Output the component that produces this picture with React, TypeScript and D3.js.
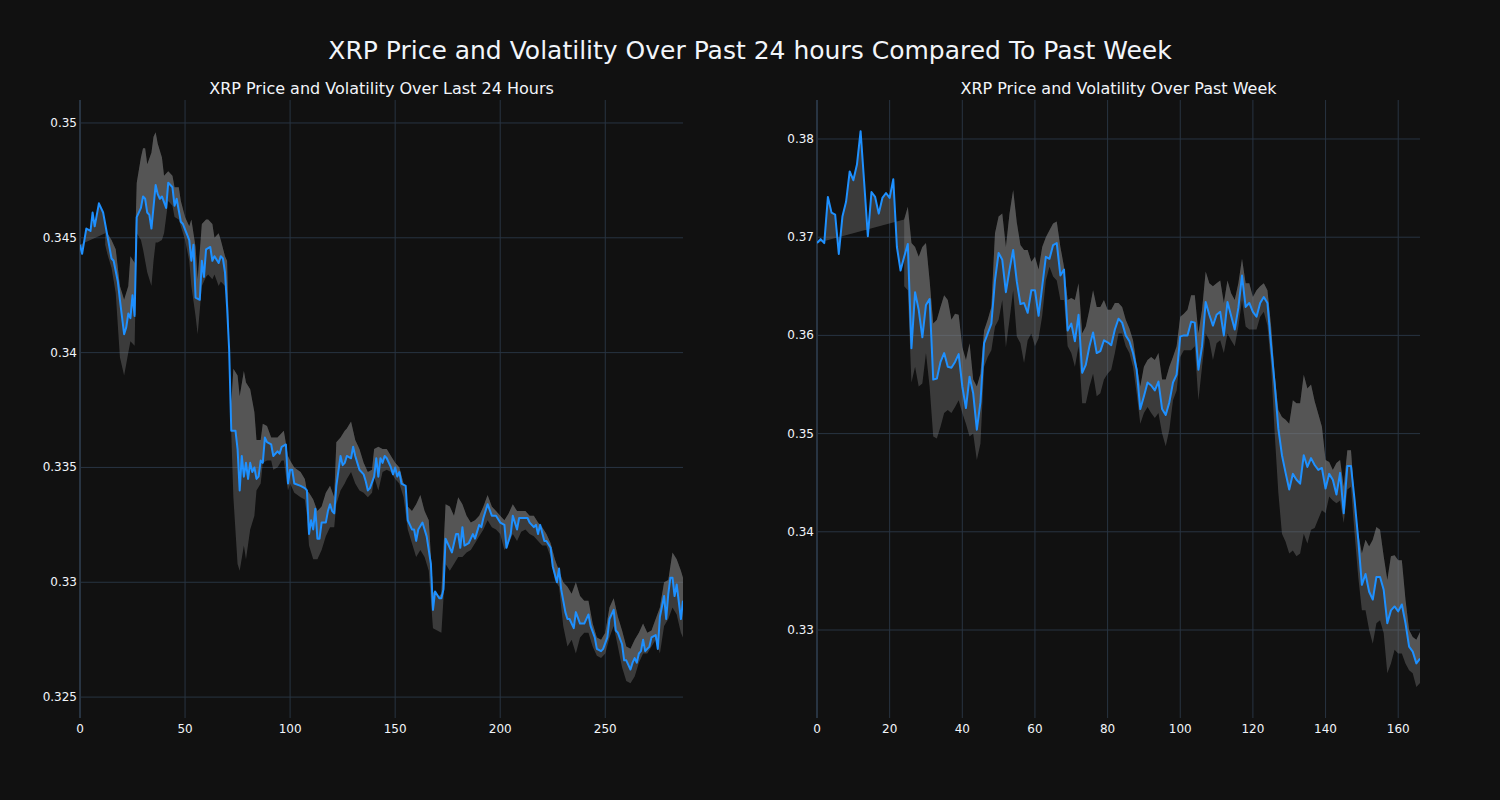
import React from "react";
import * as d3 from "d3";

// ---------- Last 24 hours (5-minute steps) ----------
const dayX = [0,1,3,5,6,7,9,11,13,15,16,18,19,21,22,23,24,25,26,27,29,30,31,32,33,34,36,37,38,39,41,42,44,45,46,48,49,52,53,54,55,57,58,59,60,62,63,64,66,67,68,69,70,71,72,74,75,76,77,78,79,80,81,82,83,84,85,86,87,88,89,91,92,94,95,96,98,99,100,101,102,105,107,108,109,110,111,112,113,114,115,117,118,119,120,121,122,124,125,126,127,129,130,131,132,133,135,136,137,138,140,141,142,143,144,145,146,148,149,150,151,152,153,155,156,158,159,160,161,163,164,165,167,168,169,171,172,173,174,176,177,179,180,181,182,183,185,187,188,190,191,192,194,196,198,200,202,203,205,206,208,209,211,213,214,216,217,218,219,221,222,224,225,227,228,229,231,232,233,235,236,238,239,240,242,243,245,246,248,249,251,252,254,255,256,258,259,260,262,263,264,265,266,267,268,269,271,272,274,275,276,278,279,280,281,282,283,284,286,287];
const dayPrice = [0.3447,0.3443,0.3454,0.3453,0.3461,0.3455,0.3465,0.3461,0.3451,0.3441,0.3440,0.3431,0.3423,0.3408,0.3411,0.3417,0.3415,0.3425,0.3416,0.3459,0.3463,0.3468,0.3467,0.3461,0.3460,0.3454,0.3473,0.3469,0.3467,0.3468,0.3463,0.3474,0.3472,0.3464,0.3467,0.3457,0.3456,0.3449,0.3440,0.3447,0.3424,0.3423,0.3440,0.3433,0.3445,0.3446,0.3440,0.3442,0.3439,0.3442,0.3441,0.3435,0.3420,0.3401,0.3366,0.3366,0.3358,0.3340,0.3355,0.3346,0.3352,0.3345,0.3352,0.3348,0.3350,0.3345,0.3346,0.3353,0.3352,0.3363,0.3361,0.3360,0.3355,0.3357,0.3356,0.3359,0.3360,0.3343,0.3349,0.3349,0.3343,0.3342,0.3341,0.3340,0.3321,0.3327,0.3323,0.3332,0.3319,0.3319,0.3326,0.3326,0.3331,0.3334,0.3331,0.3330,0.3342,0.3355,0.3351,0.3352,0.3355,0.3354,0.3359,0.3355,0.3352,0.3349,0.3347,0.3344,0.3340,0.3341,0.3346,0.3354,0.3346,0.3354,0.3352,0.3355,0.3354,0.3350,0.3347,0.3350,0.3346,0.3348,0.3343,0.3342,0.3327,0.3323,0.3323,0.3318,0.3323,0.3326,0.3323,0.3320,0.3308,0.3288,0.3296,0.3293,0.3293,0.3297,0.3319,0.3315,0.3313,0.3321,0.3321,0.3315,0.3324,0.3316,0.3317,0.3321,0.3319,0.3325,0.3324,0.3328,0.3334,0.3329,0.3329,0.3326,0.3325,0.3315,0.3321,0.3329,0.3323,0.3328,0.3328,0.3328,0.3326,0.3324,0.3325,0.3321,0.3325,0.3318,0.3318,0.3315,0.3307,0.3300,0.3306,0.3297,0.3287,0.3284,0.3284,0.3280,0.3287,0.3282,0.3282,0.3282,0.3286,0.3281,0.3276,0.3271,0.3270,0.3271,0.3276,0.3284,0.3288,0.3279,0.3278,0.3273,0.3266,0.3266,0.3262,0.3265,0.3267,0.3265,0.3269,0.3270,0.3275,0.3270,0.3272,0.3276,0.3277,0.3271,0.3285,0.3294,0.3284,0.3295,0.3302,0.3302,0.3294,0.3299,0.3284,0.3292];

const dayBandX = [12,13,15,17,19,21,23,24,26,27,29,30,31,32,34,35,36,37,39,40,42,44,45,47,48,50,52,53,55,56,58,60,61,63,64,66,67,69,70,71,72,73,75,76,78,79,81,83,84,86,87,89,91,92,94,96,97,99,100,102,105,107,108,109,111,113,115,117,119,121,122,124,126,127,129,131,133,135,137,139,140,142,144,146,148,150,152,154,156,158,160,162,164,166,168,170,172,174,176,178,180,182,184,186,188,190,192,194,196,198,200,202,204,206,208,210,212,214,216,218,220,222,224,226,228,230,232,234,236,238,240,242,244,246,248,250,252,254,256,258,260,262,264,266,268,270,272,274,276,278,280,282,284,286,287];
const dayUpper = [0.3452,0.3452,0.3449,0.3445,0.3429,0.3423,0.3429,0.3442,0.3439,0.3474,0.3485,0.3489,0.3489,0.3482,0.3487,0.3494,0.3496,0.3491,0.3485,0.3477,0.3479,0.3477,0.3472,0.3472,0.3466,0.3459,0.3455,0.3458,0.3446,0.3432,0.3456,0.3458,0.3458,0.3456,0.3450,0.3452,0.3449,0.3442,0.3440,0.3402,0.3378,0.3393,0.3390,0.3381,0.3392,0.3387,0.3384,0.3374,0.3362,0.3362,0.3369,0.3368,0.3363,0.3363,0.3363,0.3365,0.3366,0.3355,0.3353,0.3350,0.3348,0.3345,0.3340,0.3339,0.3336,0.3331,0.3333,0.3339,0.3342,0.3337,0.3361,0.3363,0.3366,0.3367,0.3370,0.3362,0.3358,0.3352,0.3348,0.3349,0.3358,0.3359,0.3358,0.3358,0.3355,0.3352,0.3350,0.3343,0.3333,0.3331,0.3334,0.3338,0.3331,0.3327,0.3296,0.3293,0.3295,0.3334,0.3333,0.3329,0.3337,0.3334,0.3329,0.3326,0.3327,0.3329,0.3333,0.3338,0.3333,0.3331,0.3329,0.3327,0.3330,0.3334,0.3331,0.3331,0.3331,0.3329,0.3329,0.3326,0.3324,0.3321,0.3317,0.3310,0.3305,0.3300,0.3298,0.3295,0.3300,0.3294,0.3292,0.3292,0.3282,0.3276,0.3275,0.3278,0.3289,0.3293,0.3285,0.3279,0.3272,0.3271,0.3275,0.3278,0.3282,0.3278,0.3279,0.3284,0.3289,0.3300,0.3301,0.3313,0.3310,0.3305,0.3302];
const dayLower = [0.3447,0.3443,0.3437,0.3426,0.3398,0.3390,0.3400,0.3405,0.3403,0.3452,0.3449,0.3445,0.3440,0.3435,0.3429,0.3440,0.3448,0.3448,0.3449,0.3452,0.3466,0.3464,0.3459,0.3458,0.3455,0.3449,0.3440,0.3429,0.3416,0.3408,0.3429,0.3433,0.3434,0.3432,0.3434,0.3429,0.3431,0.3429,0.3425,0.3398,0.3365,0.3337,0.3308,0.3305,0.3316,0.3310,0.3323,0.3329,0.3340,0.3343,0.3352,0.3353,0.3353,0.3349,0.3350,0.3353,0.3353,0.3340,0.3343,0.3339,0.3337,0.3336,0.3329,0.3316,0.3310,0.3310,0.3314,0.3320,0.3324,0.3324,0.3334,0.3340,0.3343,0.3345,0.3348,0.3343,0.3340,0.3339,0.3337,0.3339,0.3346,0.3340,0.3348,0.3349,0.3348,0.3345,0.3343,0.3337,0.3323,0.3317,0.3311,0.3314,0.3311,0.3305,0.3280,0.3279,0.3278,0.3308,0.3305,0.3308,0.3311,0.3311,0.3313,0.3314,0.3317,0.3320,0.3323,0.3327,0.3324,0.3323,0.3321,0.3314,0.3317,0.3321,0.3318,0.3322,0.3323,0.3321,0.3320,0.3318,0.3316,0.3316,0.3311,0.3301,0.3298,0.3281,0.3272,0.3275,0.3269,0.3276,0.3278,0.3278,0.3272,0.3268,0.3267,0.3269,0.3276,0.3281,0.3272,0.3263,0.3257,0.3256,0.3259,0.3265,0.3269,0.3269,0.3272,0.3275,0.3269,0.3281,0.3284,0.3289,0.3286,0.3278,0.3276];

// ---------- Past week (hourly steps) ----------
const weekPrice = [0.3694,0.3698,0.3694,0.3741,0.3725,0.3723,0.3683,0.3721,0.3736,0.3767,0.3758,0.3774,0.3808,0.3755,0.3701,0.3746,0.3741,0.3724,0.3740,0.3745,0.3740,0.3759,0.3690,0.3666,0.3680,0.3693,0.3587,0.3644,0.3626,0.3598,0.3631,0.3637,0.3555,0.3556,0.3573,0.3582,0.3568,0.3567,0.3573,0.3581,0.3548,0.3526,0.3558,0.3541,0.3504,0.3532,0.3592,0.3602,0.3612,0.3656,0.3684,0.3677,0.3644,0.3667,0.3687,0.3655,0.3632,0.3633,0.3623,0.3646,0.3646,0.3620,0.3650,0.3680,0.3678,0.3692,0.3694,0.3661,0.3667,0.3605,0.3612,0.3594,0.3621,0.3562,0.3570,0.3589,0.3603,0.3582,0.3584,0.3595,0.3593,0.3590,0.3606,0.3617,0.3613,0.3600,0.3594,0.3582,0.3565,0.3525,0.3538,0.3552,0.3549,0.3544,0.3553,0.3525,0.3519,0.3532,0.3552,0.3560,0.3599,0.3600,0.3600,0.3614,0.3613,0.3565,0.3589,0.3634,0.3621,0.3610,0.3621,0.3624,0.3600,0.3634,0.3620,0.3606,0.3628,0.3661,0.3629,0.3633,0.3624,0.3619,0.3633,0.3639,0.3633,0.3590,0.3550,0.3505,0.3478,0.3460,0.3443,0.3459,0.3453,0.3449,0.3478,0.3466,0.3475,0.3468,0.3463,0.3465,0.3444,0.3459,0.3453,0.3438,0.3460,0.3419,0.3467,0.3467,0.3432,0.3392,0.3346,0.3357,0.3339,0.3331,0.3354,0.3354,0.3341,0.3307,0.3320,0.3324,0.3319,0.3326,0.3307,0.3283,0.3278,0.3266,0.3271];
const weekBandStart = 24;
const weekUpper = [0.3718,0.3731,0.3694,0.3690,0.3680,0.3690,0.3694,0.3656,0.3612,0.3616,0.3629,0.3641,0.3636,0.3616,0.3622,0.3621,0.3588,0.3575,0.3592,0.3555,0.3548,0.3561,0.3605,0.3616,0.3629,0.3704,0.3721,0.3724,0.3690,0.3724,0.3748,0.3715,0.3692,0.3687,0.3687,0.3675,0.3680,0.3667,0.3690,0.3700,0.3707,0.3714,0.3716,0.3690,0.3670,0.3636,0.3638,0.3636,0.3653,0.3602,0.3609,0.3626,0.3646,0.3629,0.3629,0.3636,0.3626,0.3626,0.3633,0.3633,0.3629,0.3616,0.3607,0.3595,0.3570,0.3548,0.3568,0.3575,0.3578,0.3575,0.3582,0.3555,0.3555,0.3568,0.3578,0.3589,0.3619,0.3622,0.3626,0.3641,0.3641,0.3602,0.3626,0.3665,0.3653,0.3650,0.3653,0.3656,0.3633,0.3656,0.3643,0.3636,0.3653,0.3678,0.3653,0.3653,0.3639,0.3646,0.3650,0.3653,0.3646,0.3610,0.3560,0.3524,0.3517,0.3514,0.3510,0.3534,0.3531,0.3531,0.3560,0.3546,0.3550,0.3533,0.3520,0.3507,0.3473,0.3471,0.3463,0.3470,0.3473,0.3446,0.3483,0.3483,0.3432,0.3398,0.3378,0.3392,0.3385,0.3392,0.3405,0.3402,0.3375,0.3351,0.3375,0.3376,0.3371,0.3371,0.3331,0.3300,0.3293,0.3290,0.3298];
const weekLower = [0.3650,0.3646,0.3552,0.3568,0.3548,0.3551,0.3582,0.3548,0.3497,0.3495,0.3507,0.3521,0.3524,0.3521,0.3527,0.3534,0.3521,0.3510,0.3497,0.3500,0.3473,0.3490,0.3568,0.3578,0.3585,0.3609,0.3616,0.3636,0.3588,0.3616,0.3646,0.3599,0.3592,0.3572,0.3595,0.3602,0.3589,0.3597,0.3620,0.3656,0.3670,0.3660,0.3656,0.3636,0.3636,0.3589,0.3582,0.3568,0.3589,0.3531,0.3531,0.3548,0.3561,0.3538,0.3541,0.3555,0.3561,0.3565,0.3582,0.3602,0.3602,0.3589,0.3582,0.3568,0.3541,0.3510,0.3521,0.3527,0.3521,0.3516,0.3521,0.3500,0.3487,0.3504,0.3534,0.3544,0.3578,0.3585,0.3585,0.3585,0.3589,0.3534,0.3568,0.3602,0.3595,0.3575,0.3592,0.3595,0.3582,0.3602,0.3595,0.3589,0.3609,0.3636,0.3609,0.3606,0.3606,0.3606,0.3619,0.3624,0.3610,0.3570,0.3500,0.3440,0.3398,0.3390,0.3378,0.3381,0.3375,0.3378,0.3398,0.3388,0.3402,0.3404,0.3413,0.3422,0.3419,0.3436,0.3432,0.3429,0.3432,0.3409,0.3443,0.3446,0.3398,0.3354,0.3320,0.3320,0.3300,0.3286,0.3307,0.3310,0.3297,0.3256,0.3266,0.3280,0.3276,0.3276,0.3266,0.3259,0.3256,0.3242,0.3246];

const dayTicksX = [0, 50, 100, 150, 200, 250];
const dayTicksY = [0.325, 0.33, 0.335, 0.34, 0.345, 0.35];
const weekTicksX = [0, 20, 40, 60, 80, 100, 120, 140, 160];
const weekTicksY = [0.33, 0.34, 0.35, 0.36, 0.37, 0.38];

const mainTitle = "XRP Price and Volatility Over Past 24 hours Compared To Past Week";
const dayTitle = "XRP Price and Volatility Over Last 24 Hours";
const weekTitle = "XRP Price and Volatility Over Past Week";

const BG = "#111111";
const GRID = "#283442";
const TEXT = "#f2f5fa";
const LINE = "#1e90ff";
const FILL = "rgba(128,128,128,0.38)";
const FONT = "'DejaVu Sans', Verdana, sans-serif";

type Pt = [number, number];

function Panel(props: {
  id: string; left: number; right: number; top: number; bottom: number;
  xDomain: [number, number]; yDomain: [number, number];
  xTicks: number[]; yTicks: number[]; title: string;
  px: number[]; py: number[]; bx: number[]; bu: number[]; bl: number[];
}) {
  const { id, left, right, top, bottom, xDomain, yDomain, xTicks, yTicks, title, px, py, bx, bu, bl } = props;
  const x = d3.scaleLinear().domain(xDomain).range([left, right]);
  const y = d3.scaleLinear().domain(yDomain).range([bottom, top]);
  const line = d3.line<Pt>().x(d => x(d[0])).y(d => y(d[1]));
  const price: Pt[] = px.map((v, i) => [v, py[i]]);
  const upper: Pt[] = bx.map((v, i) => [v, bu[i]]);
  const lower: Pt[] = bx.map((v, i) => [v, bl[i]]);
  // fill between upper band and price (tonexty), and between lower and upper band
  const fillUpper = line([...upper, ...price.slice().reverse()]) + "Z";
  const fillLower = line([...lower, ...upper.slice().reverse()]) + "Z";
  const fmt = (v: number) => String(+v.toFixed(3));
  return (
    <g>
      <defs>
        <clipPath id={id}>
          <rect x={left} y={top} width={right - left} height={bottom - top} />
        </clipPath>
      </defs>
      {xTicks.map(t => (
        <line key={"gx" + t} x1={x(t)} x2={x(t)} y1={top} y2={bottom} stroke={GRID} strokeWidth={t === 0 ? 2 : 1} />
      ))}
      {yTicks.map(t => (
        <line key={"gy" + t} x1={left} x2={right} y1={y(t)} y2={y(t)} stroke={GRID} strokeWidth={1} />
      ))}
      <g clipPath={`url(#${id})`}>
        <path d={fillUpper} fill={FILL} stroke="none" />
        <path d={fillLower} fill={FILL} stroke="none" />
        <path d={line(price) || ""} fill="none" stroke={LINE} strokeWidth={2} strokeLinejoin="round" />
      </g>
      {xTicks.map(t => (
        <text key={"tx" + t} x={x(t)} y={bottom + 15} fill={TEXT} fontSize={12} textAnchor="middle" fontFamily={FONT}>{t}</text>
      ))}
      {yTicks.map(t => (
        <text key={"ty" + t} x={left - 3} y={y(t) + 4} fill={TEXT} fontSize={12} textAnchor="end" fontFamily={FONT}>{fmt(t)}</text>
      ))}
      <text x={(left + right) / 2} y={top - 6} fill={TEXT} fontSize={16} textAnchor="middle" fontFamily={FONT}>{title}</text>
    </g>
  );
}

export default function App() {
  const weekX = weekPrice.map((_, i) => i);
  const weekBandX = weekUpper.map((_, i) => i + weekBandStart);
  return (
    <svg width={1500} height={800} style={{ position: "absolute", left: 0, top: 0, background: BG }}>
      <rect x={0} y={0} width={1500} height={800} fill={BG} />
      <text x={750} y={59} fill={TEXT} fontSize={25} textAnchor="middle" fontFamily={FONT}>{mainTitle}</text>
      <Panel id="clipDay" left={80} right={683} top={100} bottom={718}
        xDomain={[0, 287]} yDomain={[0.32409, 0.351]} xTicks={dayTicksX} yTicks={dayTicksY}
        title={dayTitle} px={dayX} py={dayPrice} bx={dayBandX} bu={dayUpper} bl={dayLower} />
      <Panel id="clipWeek" left={817} right={1420} top={100} bottom={718}
        xDomain={[0, 166]} yDomain={[0.32104, 0.38397]} xTicks={weekTicksX} yTicks={weekTicksY}
        title={weekTitle} px={weekX} py={weekPrice} bx={weekBandX} bu={weekUpper} bl={weekLower} />
    </svg>
  );
}
